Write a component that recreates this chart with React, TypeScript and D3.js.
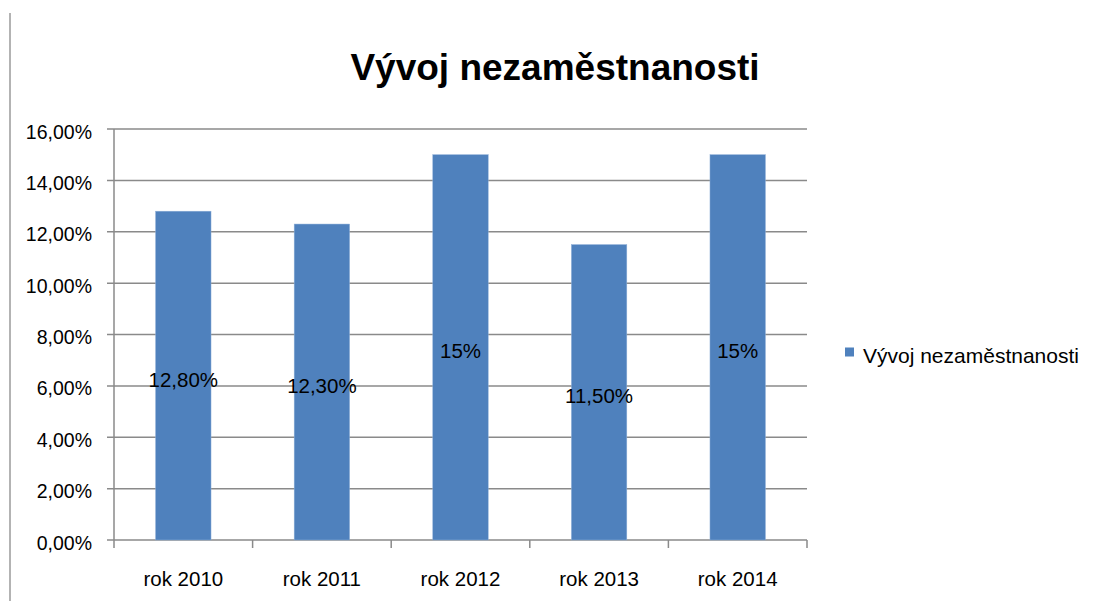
import React from "react";
import * as d3 from "d3";

const categories = ["rok 2010", "rok 2011", "rok 2012", "rok 2013", "rok 2014"];
const values = [12.8, 12.3, 15, 11.5, 15];
const valueLabels = ["12,80%", "12,30%", "15%", "11,50%", "15%"];
const yTicks = [0, 2, 4, 6, 8, 10, 12, 14, 16];
const title = "Vývoj nezaměstnanosti";
const seriesName = "Vývoj nezaměstnanosti";

const W = 1095;
const H = 601;
const left = 114;
const right = 807;
const top = 129;
const bottom = 540;
const barColor = "#4F81BD";
const gridColor = "#8a8a8a";
const font = "'Liberation Sans', Arial, sans-serif";

export default function App() {
  const x = d3.scaleBand<string>().domain(categories).range([left, right]).paddingInner(0.6).paddingOuter(0.3);
  const xOuter = d3.scaleBand<string>().domain(categories).range([left, right]);
  const y = d3.scaleLinear().domain([0, 16]).range([bottom, top]);
  const fmt = (v: number) => v.toFixed(2).replace(".", ",") + "%";

  return (
    <svg width={W} height={H} style={{ position: "absolute", left: 0, top: 0, background: "#fff" }}>
      <rect x={0} y={0} width={W} height={H} fill="#fff" />
      <line x1={10} x2={10} y1={13} y2={H} stroke="#9a9a9a" strokeWidth={1.5} />
      <text x={555} y={80} textAnchor="middle" fontFamily={font} fontWeight="bold" fontSize={37} fill="#000">
        {title}
      </text>
      {yTicks.map((t) => (
        <g key={t}>
          <line x1={left - 7} x2={right} y1={y(t)} y2={y(t)} stroke={gridColor} strokeWidth={1.5} />
          <text x={92} y={y(t) + 9.5} textAnchor="end" fontFamily={font} fontSize={19.5} fill="#000">
            {fmt(t)}
          </text>
        </g>
      ))}
      <line x1={left} x2={left} y1={top} y2={bottom} stroke={gridColor} strokeWidth={1.5} />
      {categories.map((c, i) => (
        <line key={"t" + i} x1={xOuter(c)!} x2={xOuter(c)!} y1={bottom} y2={bottom + 8} stroke={gridColor} strokeWidth={1.5} />
      ))}
      <line x1={right} x2={right} y1={bottom} y2={bottom + 8} stroke={gridColor} strokeWidth={1.5} />
      {categories.map((c, i) => (
        <rect key={c} x={x(c)!} y={y(values[i])} width={x.bandwidth()} height={bottom - y(values[i])} fill={barColor} stroke="#8fb0d8" strokeWidth={0.5} />
      ))}
      {categories.map((c, i) => (
        <text key={"l" + c} x={x(c)! + x.bandwidth() / 2} y={(y(values[i]) + bottom) / 2 + 11} textAnchor="middle" fontFamily={font} fontSize={20.5} fill="#000">
          {valueLabels[i]}
        </text>
      ))}
      {categories.map((c) => (
        <text key={"x" + c} x={xOuter(c)! + xOuter.bandwidth() / 2} y={586} textAnchor="middle" fontFamily={font} fontSize={20.5} fill="#000">
          {c}
        </text>
      ))}
      <rect x={845} y={347.5} width={9} height={9} fill={barColor} />
      <text x={863} y={363} fontFamily={font} fontSize={21} fill="#000">
        {seriesName}
      </text>
    </svg>
  );
}
